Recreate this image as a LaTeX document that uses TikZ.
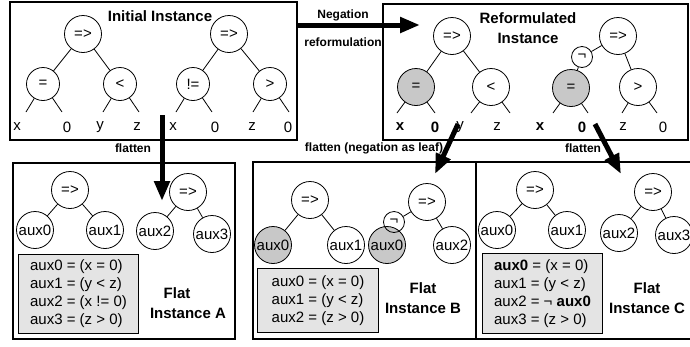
\documentclass[tikz,border=0pt]{standalone}
\usepackage{fontspec}
\setmainfont{Liberation Sans}
\usetikzlibrary{arrows.meta,calc}
\definecolor{nodegray}{HTML}{C8C8C8}
\definecolor{boxgray}{HTML}{E4E4E4}
\begin{document}
\begin{tikzpicture}[x=1pt,y=-1pt,
  frame/.style={draw, line width=2pt},
  tn/.style={circle, draw, line width=0.8pt, minimum size=37pt, inner sep=0pt, font=\fontsize{15}{18}\selectfont},
  tns/.style={tn, minimum size=33pt},
  negn/.style={tn, minimum size=21pt},
  shaded/.style={fill=nodegray},
  leaf/.style={inner sep=0pt, font=\fontsize{15}{18}\selectfont},
  bleaf/.style={inner sep=0pt, font=\fontsize{15}{18}\selectfont\bfseries},
  edge/.style={line width=0.8pt},
  bigarrow/.style={line width=5pt, -{Triangle[length=20pt,width=15pt]}},
  lbl/.style={font=\fontsize{12}{14}\selectfont\bfseries, inner sep=0pt},
  ttl/.style={font=\fontsize{15}{20}\selectfont\bfseries, align=center, inner sep=0pt},
  code/.style={draw, line width=1pt, fill=boxgray, align=left, anchor=north west, inner sep=0pt, font=\fontsize{15}{18}\selectfont}
]
\fill[white] (0,0) rectangle (690,346);
\useasboundingbox (0,0) rectangle (690,346);

% frames
\draw[frame] (10,2) rectangle (297,140);
\draw[frame] (383,4) rectangle (688,140);
\draw[frame] (13,163) rectangle (235,339);
\draw[frame] (253,162) rectangle (476,339);
\draw[frame] (476,162) rectangle (700,339);

% ---------- Initial instance ----------
\node[ttl] (ititle) at (160,16) {Initial Instance};
\node[tn]  (i1) at (83,34)  {=>};
\node[tns] (i2) at (43,84)  {=};
\node[tns] (i3) at (120,84) {<};
\node[tn]  (i4) at (229,34) {=>};
\node[tns] (i5) at (193,84) {!=};
\node[tns] (i6) at (270,84) {>};
\draw[edge] (i1) -- (i2);
\draw[edge] (i1) -- (i3);
\draw[edge] (i4) -- (i5);
\draw[edge] (i4) -- (i6);
\node[leaf] (il1) at (17,127)  {x};
\node[leaf] (il2) at (67,127)  {0};
\node[leaf] (il3) at (100,127) {y};
\node[leaf] (il4) at (137,127) {z};
\node[leaf] (il5) at (173,127) {x};
\node[leaf] (il6) at (215,127) {0};
\node[leaf] (il7) at (252,127) {z};
\node[leaf] (il8) at (288,127) {0};
\coordinate (ie1) at (26,112);  \coordinate (ie2) at (62,112);
\coordinate (ie3) at (103,112); \coordinate (ie4) at (139,112);
\coordinate (ie5) at (176,112); \coordinate (ie6) at (212,112);
\coordinate (ie7) at (253,112); \coordinate (ie8) at (289,112);
\draw[edge] (i2) -- (ie1); \draw[edge] (i2) -- (ie2);
\draw[edge] (i3) -- (ie3); \draw[edge] (i3) -- (ie4);
\draw[edge] (i5) -- (ie5); \draw[edge] (i5) -- (ie6);
\draw[edge] (i6) -- (ie7); \draw[edge] (i6) -- (ie8);

% ---------- Reformulated instance ----------
\node[ttl] (rtitle) at (528,28) {Reformulated\\Instance};
\node[tn] (r1) at (452,36) {=>};
\node[tn,shaded] (r2) at (416,87) {=};
\node[tn] (r3) at (491,87) {<};
\node[tn] (r6) at (618,36) {=>};
\node[tn,shaded] (r5) at (571,88) {=};
\node[negn] (r4) at (582,57) {¬};
\node[tn] (r7) at (638,87) {>};
\draw[edge] (r1) -- (r2);
\draw[edge] (r1) -- (r3);
\draw[edge] (r6) -- (r4);
\draw[edge] (r4) -- (r5);
\draw[edge] (r6) -- (r7);
\node[bleaf] (rl1) at (400,127) {x};
\node[bleaf] (rl2) at (435,127) {0};
\node[leaf]  (rl3) at (460,127) {y};
\node[leaf]  (rl4) at (497,127) {z};
\node[bleaf] (rl5) at (540,127) {x};
\node[bleaf] (rl6) at (582,127) {0};
\node[leaf]  (rl7) at (623,127) {z};
\node[leaf]  (rl8) at (663,127) {0};
\coordinate (re1) at (397,113); \coordinate (re2) at (435,113);
\coordinate (re3) at (471,113); \coordinate (re4) at (510,113);
\coordinate (re5) at (553,113); \coordinate (re6) at (588,113);
\coordinate (re7) at (622,113); \coordinate (re8) at (657,113);
\draw[edge] (r2) -- (re1); \draw[edge] (r2) -- (re2);
\draw[edge] (r3) -- (re3); \draw[edge] (r3) -- (re4);
\draw[edge] (r5) -- (re5); \draw[edge] (r5) -- (re6);
\draw[edge] (r7) -- (re7); \draw[edge] (r7) -- (re8);

% ---------- Flat instance A ----------
\node[tn] (fa1) at (70,190)  {=>};
\node[tn] (fa2) at (35,230)  {aux0};
\node[tn] (fa3) at (105,230) {aux1};
\node[tn] (fa4) at (188,192) {=>};
\node[tn] (fa5) at (155,231) {aux2};
\node[tn] (fa6) at (212,234) {aux3};
\draw[edge] (fa1) -- (fa2);
\draw[edge] (fa1) -- (fa3);
\draw[edge] (fa4) -- (fa5);
\draw[edge] (fa4) -- (fa6);
\node[code, minimum width=120pt, minimum height=79pt] (ca) at (18,254)
  {aux0 = (x = 0)\\aux1 = (y < z)\\aux2 = (x != 0)\\aux3 = (z > 0)};
\node[ttl] (ta1) at (177,293) {Flat};
\node[ttl] (ta2) at (188,313) {Instance A};

% ---------- Flat instance B ----------
\node[tn] (fb1) at (310,200) {=>};
\node[tn,shaded] (fb2) at (273,245) {aux0};
\node[tn] (fb3) at (346,245) {aux1};
\node[tn] (fb4) at (427,202) {=>};
\node[tn,shaded] (fb6) at (387,245) {aux0};
\node[negn] (fb5) at (394,222) {¬};
\node[tn] (fb7) at (452,245) {aux2};
\draw[edge] (fb1) -- (fb2);
\draw[edge] (fb1) -- (fb3);
\draw[edge] (fb4) -- (fb5);
\draw[edge] (fb4) -- (fb7);
\node[code, minimum width=121pt, minimum height=64pt] (cb) at (257,268)
  {aux0 = (x = 0)\\aux1 = (y < z)\\aux2 = (z > 0)};
\node[ttl] (tb) at (423,298) {Flat\\Instance B};

% ---------- Flat instance C ----------
\node[tn] (fc1) at (535,190) {=>};
\node[tn] (fc2) at (497,230) {aux0};
\node[tn] (fc3) at (567,230) {aux1};
\node[tn] (fc4) at (653,192) {=>};
\node[tn] (fc5) at (619,233) {aux2};
\node[tn] (fc6) at (674,235) {aux3};
\draw[edge] (fc1) -- (fc2);
\draw[edge] (fc1) -- (fc3);
\draw[edge] (fc4) -- (fc5);
\draw[edge] (fc4) -- (fc6);
\node[code, minimum width=120pt, minimum height=80pt] (cc) at (482,253)
  {\textbf{aux0} = (x = 0)\\aux1 = (y < z)\\aux2 = ¬ \textbf{aux0}\\aux3 = (z > 0)};
\node[ttl] (tc) at (647,298) {Flat\\Instance C};

% ---------- arrows and labels ----------
\node[lbl] (ln1) at (343,15) {Negation};
\node[lbl] (ln2) at (343,42) {reformulation};
\node[lbl] (lf1) at (133,148) {flatten};
\node[lbl] (lf2) at (374,148) {flatten (negation as leaf)};
\node[lbl] (lf3) at (583,148) {flatten};
\coordinate (nA) at (297,25);  \coordinate (nB) at (420,25);
\coordinate (fA1) at (162,115); \coordinate (fA2) at (162,201);
\coordinate (fB1) at (458,124); \coordinate (fB2) at (435,174);
\coordinate (fC1) at (595,124); \coordinate (fC2) at (621,174);
\draw[bigarrow] (nA) -- (nB);
\draw[bigarrow] (fA1) -- (fA2);
\draw[bigarrow] (fB1) -- (fB2);
\draw[bigarrow] (fC1) -- (fC2);
\end{tikzpicture}
\end{document}
